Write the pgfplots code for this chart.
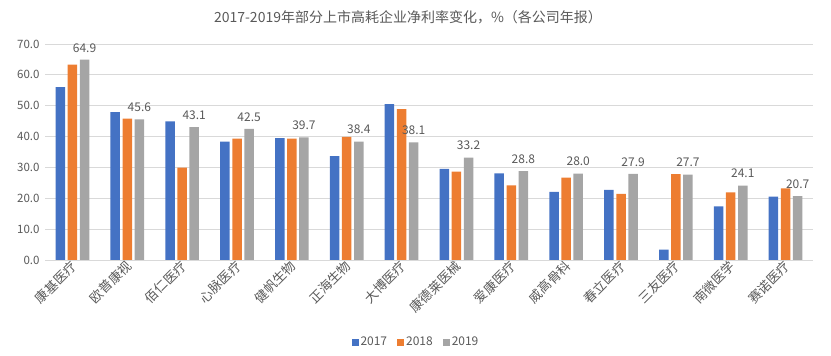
\documentclass[border=0pt]{standalone}
\usepackage{pgfplots}
\pgfplotsset{compat=1.18}
\usepackage{fontspec}
\setmainfont{Noto Sans CJK SC}
\definecolor{cA}{HTML}{4472C4}
\definecolor{cB}{HTML}{ED7D31}
\definecolor{cC}{HTML}{A5A5A5}
\definecolor{txt}{HTML}{595959}
\definecolor{grd}{HTML}{D9D9D9}
\begin{document}
\begin{tikzpicture}
\useasboundingbox (0,0) rectangle (831bp,356bp);
\begin{axis}[
  at={(45bp,96bp)}, anchor=south west,
  width=768bp, height=216bp, scale only axis,
  ybar=2.6bp, bar width=9.5bp,
  xmin=-0.5, xmax=13.5, ymin=0, ymax=70,
  ytick={0,10,...,70},
  xtick={0,...,13},
  xticklabels={康基医疗,欧普康视,佰仁医疗,心脉医疗,健帆生物,正海生物,大博医疗,康德莱医械,爱康医疗,威高骨科,春立医疗,三友医疗,南微医学,赛诺医疗},
  /pgf/number format/assume math mode=true,
  yticklabel={\pgfmathprintnumber[fixed,fixed zerofill,precision=1]{\tick}},
  axis x line*=bottom, axis y line*=left,
  x axis line style={draw=grd, line width=0.8bp, -},
  y axis line style={draw=none},
  ymajorgrids, grid style={draw=grd, line width=0.8bp},
  major tick length=0pt,
  tick label style={font=\fontsize{11.5bp}{13bp}\selectfont, text=txt},
  yticklabel style={xshift=-2bp},
  xticklabel style={rotate=45, anchor=east, xshift=2bp, yshift=-4bp, font=\fontsize{13bp}{15bp}\selectfont},
  legend style={at={(0.483,-0.38)}, anchor=center, draw=none, fill=none,
    legend columns=3, font=\fontsize{12bp}{14bp}\selectfont, text=txt,
    /tikz/every even column/.append style={column sep=8bp}},
  legend image code/.code={\fill[#1] (0bp,-3.5bp) rectangle (7bp,3.5bp);},
]
\addplot[fill=cA, draw=none] coordinates {(0,56.0) (1,47.9) (2,44.9) (3,38.4) (4,39.5) (5,33.7) (6,50.5) (7,29.5) (8,28.1) (9,22.1) (10,22.7) (11,3.4) (12,17.4) (13,20.5)};
\addplot[fill=cB, draw=none] coordinates {(0,63.3) (1,45.8) (2,29.9) (3,39.3) (4,39.3) (5,39.9) (6,48.9) (7,28.6) (8,24.2) (9,26.7) (10,21.4) (11,27.8) (12,21.9) (13,23.2)};
\addplot[fill=cC, draw=none,
  nodes near coords={\pgfmathprintnumber[fixed,fixed zerofill,precision=1]{\pgfplotspointmeta}},
  every node near coord/.append style={font=\fontsize{12bp}{14bp}\selectfont, text=txt, anchor=south, yshift=4bp}]
  coordinates {(0,64.9) (1,45.6) (2,43.1) (3,42.5) (4,39.7) (5,38.4) (6,38.1) (7,33.2) (8,28.8) (9,28.0) (10,27.9) (11,27.7) (12,24.1) (13,20.7)};
\legend{2017,2018,2019}
\end{axis}
\node[text=txt, font=\fontsize{14bp}{16bp}\selectfont] at (408bp,339bp) {2017-2019年部分上市高耗企业净利率变化，\%（各公司年报）};
\end{tikzpicture}
\end{document}
